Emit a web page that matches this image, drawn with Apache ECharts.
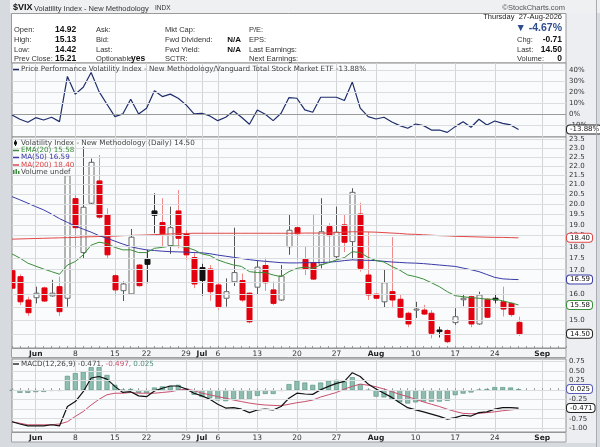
<!DOCTYPE html>
<html>
<head>
<meta charset="utf-8">
<script src="https://cdn.jsdelivr.net/npm/echarts@6/dist/echarts.min.js"></script>
<style>
html,body{margin:0;padding:0;background:#dadde2;}
#c{width:600px;height:447px;}
</style>
</head>
<body>
<div id="c"></div>
<script>
// ---------------- DATA ----------------
const categories = ['May 27','May 28','May 29','Jun 1','Jun 2','Jun 3','Jun 4','Jun 5','Jun 8','Jun 9','Jun 10','Jun 11','Jun 12','Jun 15','Jun 16','Jun 17','Jun 18','Jun 22','Jun 23','Jun 24','Jun 25','Jun 26','Jun 29','Jun 30','Jul 1','Jul 2','Jul 6','Jul 7','Jul 8','Jul 9','Jul 10','Jul 13','Jul 14','Jul 15','Jul 16','Jul 17','Jul 20','Jul 21','Jul 22','Jul 23','Jul 24','Jul 27','Jul 28','Jul 29','Jul 30','Jul 31','Aug 3','Aug 4','Aug 5','Aug 6','Aug 7','Aug 10','Aug 11','Aug 12','Aug 13','Aug 14','Aug 17','Aug 18','Aug 19','Aug 20','Aug 21','Aug 24','Aug 25','Aug 26','Aug 27','Aug 28','Aug 31','Sep 1','Sep 2','Sep 3','Sep 4'];

const tickDates  = ['Jun 1','Jun 8','Jun 15','Jun 22','Jun 29','Jul 1','Jul 6','Jul 13','Jul 20','Jul 27','Aug 3','Aug 10','Aug 17','Aug 24','Sep 1'];
const tickLabels = ['Jun','8','15','22','29','Jul','6','13','20','27','Aug','10','17','24','Sep'];

const open  = [16.96,16.71,15.77,15.86,16.25,15.93,16.30,15.84,20.28,17.74,
               20.05,21.19,19.48,16.75,16.14,16.01,17.20,17.45,19.67,19.11,
               18.05,19.67,18.58,17.52,17.09,17.03,16.37,15.84,16.50,16.55,
               16.04,16.28,17.18,16.17,15.77,18.00,18.87,17.45,17.30,17.23,
               18.92,17.56,19.00,18.23,19.52,16.78,16.00,15.70,16.10,15.80,
               15.26,15.38,15.38,15.26,14.64,14.62,14.91,15.78,15.90,14.86,
               15.80,15.84,15.70,15.64,14.92];
const high  = [17.05,16.81,15.90,16.30,16.30,16.58,16.71,21.50,20.50,23.07,
               22.40,22.60,19.80,16.81,16.51,18.81,17.25,17.86,20.55,20.30,
               19.88,20.72,18.75,17.71,17.25,17.20,16.46,16.64,18.87,16.84,
               16.07,17.39,17.52,16.51,17.20,19.48,18.92,18.00,19.48,20.30,
               19.08,19.88,19.51,20.81,20.08,18.68,16.02,17.02,18.43,16.01,
               15.32,15.70,15.58,15.38,14.76,14.67,15.45,16.01,15.94,16.10,
               15.84,16.01,16.30,15.67,15.13];
const low   = [16.20,15.57,15.16,15.64,15.70,15.90,15.16,15.51,17.93,17.49,
               20.00,19.30,17.49,15.94,15.73,16.00,16.30,16.44,18.61,18.00,
               17.68,17.93,17.42,16.24,15.94,15.74,15.38,15.51,16.33,15.70,
               14.88,15.97,16.13,15.58,15.74,17.64,17.42,16.78,16.58,17.06,
               17.28,17.42,17.76,17.42,16.92,15.77,15.82,15.47,15.45,15.08,
               14.74,15.08,15.20,14.34,14.37,14.17,14.83,15.53,14.74,14.83,
               15.08,15.64,15.14,15.13,14.42];
const close = [16.24,15.70,15.28,16.04,15.73,16.04,15.32,21.47,18.87,19.85,
               22.19,19.37,17.64,16.17,16.41,18.43,16.34,17.23,19.46,18.58,
               18.87,18.38,17.64,16.41,16.55,16.10,15.51,16.10,16.88,15.77,
               14.94,17.11,16.46,15.64,16.74,18.75,18.59,17.02,16.61,18.68,
               18.50,18.66,18.20,20.60,17.06,15.97,15.84,16.46,15.77,15.11,
               14.86,15.42,15.23,14.52,14.58,14.22,15.13,15.84,14.86,15.97,
               15.11,15.77,15.42,15.21,14.50];

const ema20 = [17.68,17.50,17.28,17.15,17.03,16.92,16.81,17.20,17.35,17.64,
               18.07,18.20,18.14,17.97,17.86,17.86,17.74,17.74,17.93,17.97,
               18.03,18.03,17.97,17.86,17.68,17.61,17.42,17.30,17.20,17.14,
               16.92,16.88,16.88,16.78,16.71,16.92,17.06,17.11,17.06,17.20,
               17.30,17.42,17.52,17.78,17.74,17.53,17.39,17.33,17.14,16.98,
               16.78,16.71,16.61,16.46,16.30,16.10,15.94,15.90,15.86,15.84,
               15.80,15.80,15.74,15.66,15.58];
const ma50  = [20.38,20.22,20.05,19.88,19.72,19.52,19.30,19.12,18.95,18.80,
               18.66,18.50,18.38,18.25,18.12,18.00,17.92,17.86,17.83,17.80,
               17.78,17.77,17.76,17.74,17.73,17.69,17.63,17.58,17.53,17.48,
               17.43,17.39,17.36,17.33,17.30,17.29,17.29,17.30,17.30,17.31,
               17.32,17.35,17.39,17.42,17.41,17.40,17.39,17.36,17.33,17.31,
               17.29,17.28,17.26,17.23,17.20,17.17,17.14,17.07,17.00,16.92,
               16.80,16.68,16.62,16.60,16.59];
const ma200 = [18.34,18.35,18.36,18.37,18.38,18.39,18.40,18.41,18.42,18.44,
               18.45,18.46,18.47,18.48,18.50,18.51,18.52,18.53,18.55,18.56,
               18.58,18.59,18.60,18.61,18.61,18.61,18.61,18.61,18.61,18.61,
               18.61,18.61,18.61,18.61,18.61,18.61,18.61,18.62,18.62,18.62,
               18.62,18.64,18.66,18.68,18.68,18.67,18.66,18.64,18.62,18.60,
               18.57,18.56,18.54,18.52,18.50,18.49,18.47,18.46,18.45,18.44,
               18.43,18.42,18.42,18.41,18.40];

const perf  = [-0.6,-4.5,-7.3,-3.1,-5.2,-2.7,-6.7,34.2,18.2,24.5,
               37.8,20.5,9.1,-2.2,0.3,13.6,0.3,5.5,21.2,16.0,
               18.2,14.5,8.5,0.3,0.9,-1.5,-5.8,-2.7,3.0,-2.7,
               -9.1,3.9,0.0,-5.8,0.9,15.1,14.5,3.9,1.8,15.4,
               15.4,15.4,12.4,29.1,5.5,-2.2,-4.3,-2.7,-7.0,-10.3,
               -12.7,-8.8,-10.3,-14.3,-14.3,-16.4,-11.2,-6.7,-11.8,-4.5,
               -9.7,-6.1,-8.2,-9.7,-13.88];

const macd   = [-0.83,-0.89,-0.94,-0.94,-0.94,-0.91,-0.94,-0.43,-0.30,-0.04,
                0.32,0.36,0.29,0.10,-0.06,-0.04,-0.15,-0.17,-0.02,0.05,
                0.11,0.11,0.03,-0.08,-0.15,-0.24,-0.37,-0.47,-0.46,-0.50,
                -0.59,-0.52,-0.50,-0.52,-0.43,-0.21,-0.08,-0.10,-0.11,0.01,
                0.10,0.18,0.23,0.46,0.36,0.16,0.03,-0.08,-0.19,-0.33,
                -0.46,-0.52,-0.57,-0.63,-0.69,-0.76,-0.72,-0.66,-0.68,-0.59,
                -0.57,-0.50,-0.46,-0.46,-0.471];
const signal = [-0.83,-0.87,-0.91,-0.91,-0.91,-0.91,-0.89,-0.83,-0.69,-0.56,
                -0.39,-0.24,-0.12,-0.08,-0.08,-0.06,-0.08,-0.08,-0.08,-0.06,
                -0.04,0.00,0.03,-0.01,-0.08,-0.12,-0.17,-0.21,-0.26,-0.30,
                -0.34,-0.37,-0.39,-0.40,-0.41,-0.37,-0.33,-0.30,-0.26,-0.18,
                -0.12,-0.06,0.03,0.10,0.16,0.13,0.09,0.03,-0.04,-0.11,
                -0.17,-0.24,-0.31,-0.37,-0.43,-0.50,-0.56,-0.61,-0.62,-0.61,
                -0.59,-0.57,-0.54,-0.52,-0.497];
const hist   = [-0.01,-0.07,-0.07,-0.05,-0.045,-0.02,-0.02,0.377,0.447,0.49,
                0.605,0.605,0.40,0.14,0.01,0.03,-0.07,-0.07,0.07,0.10,
                0.11,0.14,0.05,-0.12,-0.18,-0.21,-0.27,-0.29,-0.23,-0.25,
                -0.25,-0.15,-0.10,-0.10,-0.02,0.16,0.25,0.20,0.14,0.20,
                0.25,0.27,0.23,0.34,0.16,0.00,-0.17,-0.19,-0.25,-0.32,
                -0.35,-0.32,-0.30,-0.30,-0.30,-0.28,-0.13,-0.09,-0.06,0.01,
                0.03,0.08,0.08,0.07,0.025];

const topTicks  = [40,30,20,10,0,-10];
const topTickLabels = ['40%','30%','20%','10%','0%','-10%'];
const mainTicks = [23.5,23.0,22.5,22.0,21.5,21.0,20.5,20.0,19.5,19.0,18.5,18.0,17.5,17.0,16.5,16.0,15.5,15.0,14.5];
const mainTickLabels = ['23.5','23.0','22.5','22.0','21.5','21.0','20.5','20.0','19.5','19.0','18.5','18.0','17.5','17.0','16.5','16.0','15.5','15.0','14.5'];
const macdTicks = [0.75,0.50,0.25,0,-0.25,-0.50,-0.75,-1.00];
const macdTickLabels = ['0.75','0.50','0.25','0.00','-0.25','-0.50','-0.75','-1.00'];

// ---------------- STYLE ----------------
const SANS = '"DejaVu Sans", Verdana, sans-serif';
const ARIAL = '"Liberation Sans", Arial, sans-serif';
const RED = '#e3000f', GREEN = '#3a8f3a', BLUE = '#3a3aa8', MRED = '#e04848', NAVY = '#1d2d6b';
const last = close.length - 1;

function isTick(idx, val) { return tickDates.indexOf(val) >= 0; }
function xAx(gi, showLabels) {
  return {
    type: 'category', gridIndex: gi, data: categories, boundaryGap: false,
    axisLine: { show: false },
    axisTick: showLabels ? { show: true, interval: 0, inside: true, length: 2, lineStyle: { color: '#999' } } : { show: false },
    axisLabel: {
      show: showLabels, interval: isTick, margin: 2, fontSize: 7.5, color: '#333', fontFamily: SANS,
      formatter: function (val) {
        const k = tickDates.indexOf(val);
        if (k < 0) return '';
        const t = tickLabels[k];
        return /^[A-Za-z]/.test(t) ? '{b|' + t + '}' : t;
      },
      rich: { b: { fontWeight: 'bold', fontSize: 7.5, color: '#222', fontFamily: SANS } }
    },
    splitLine: { show: true, interval: isTick, lineStyle: { color: '#d3d5d9', width: 1 } }
  };
}
function yAx(gi, type, min, max) {
  return { type: type, gridIndex: gi, min: min, max: max, position: 'right',
    axisLine: { show: false }, axisTick: { show: false }, axisLabel: { show: false }, splitLine: { show: false } };
}
function gridML(ticks, labels, zero) {
  return {
    silent: true, symbol: 'none', animation: false,
    data: ticks.map(function (t, k) {
      return { yAxis: t,
        lineStyle: { color: (zero !== undefined && t === zero) ? '#9a9a9a' : '#dcdde0', width: 1, type: 'solid' },
        label: { show: true, position: 'end', formatter: labels[k], distance: 3, color: '#333', fontSize: 7, fontFamily: SANS } };
    })
  };
}
function tagML(items) {
  return {
    silent: true, symbol: 'none', animation: false,
    data: items.map(function (it) {
      return { yAxis: it[0],
        lineStyle: { color: 'rgba(0,0,0,0)', width: 0 },
        label: { show: true, position: 'end', formatter: it[1], distance: 1, color: '#111', fontSize: 7, fontFamily: SANS,
          backgroundColor: '#fff', borderColor: it[2], borderWidth: 1, borderRadius: 3, padding: [1, 2, 0, 3] } };
    })
  };
}
const inv = { symbol: 'none', showSymbol: false, silent: true, lineStyle: { color: 'rgba(0,0,0,0)', width: 0 }, animation: false };

const candleData = close.map(function (c, i) {
  return [i, open[i], c, low[i], high[i], i > 0 ? close[i - 1] : open[i]];
});

function renderCandle(params, api) {
  const i = api.value(0), o = api.value(1), c = api.value(2), l = api.value(3), h = api.value(4), pc = api.value(5);
  const po = api.coord([i, o]), pcc = api.coord([i, c]), pl = api.coord([i, l]), ph = api.coord([i, h]);
  const x = Math.round(po[0]) + 0.5;
  const w = 5;
  const up = c >= o;
  const higher = c >= pc;
  const top = Math.min(po[1], pcc[1]);
  const bh = Math.max(Math.abs(po[1] - pcc[1]), 1);
  let wick, body;
  if (up) {
    wick = higher ? '#555' : '#f08a8a';
    body = { fill: '#fdfdfd', stroke: higher ? '#6a6a6a' : RED, lineWidth: 1 };
  } else {
    wick = higher ? '#333' : '#f08a8a';
    const col = higher ? '#111' : RED;
    body = { fill: col, stroke: col, lineWidth: 1 };
  }
  return { type: 'group', children: [
    { type: 'line', shape: { x1: x, y1: ph[1], x2: x, y2: pl[1] }, style: { stroke: wick, lineWidth: 1 } },
    { type: 'rect', shape: { x: x - w / 2, y: top, width: w, height: bh }, style: body }
  ] };
}

// ---------------- GRAPHICS (frame, header, legends) ----------------
function T(x, y, text, size, opt) {
  opt = opt || {};
  return { type: 'text', x: x, y: y, silent: true, z: 100,
    style: { text: text, fontSize: size, fontFamily: opt.family || ARIAL, fontWeight: opt.bold ? 'bold' : 'normal',
      fill: opt.color || '#333', align: opt.align || 'left', verticalAlign: 'middle', rich: opt.rich } };
}
function R(x, y, w, h, fill, stroke, z) {
  return { type: 'rect', silent: true, z: z || 0, shape: { x: x, y: y, width: w, height: h },
    style: { fill: fill, stroke: stroke || null, lineWidth: 1 } };
}
function L(x1, y1, x2, y2, color, w) {
  return { type: 'line', silent: true, z: 100, shape: { x1: x1, y1: y1, x2: x2, y2: y2 }, style: { stroke: color, lineWidth: w || 1 } };
}
const chg = close[last] - close[last - 1];
const pct = chg / close[last - 1] * 100;
const f2 = v => v.toFixed(2);

const graphics = [
  R(0, 0, 600, 447, '#d7dadf', null, -10),
  R(10, 0, 590, 13, '#eff0f2', null, -9),
  R(566, 13, 30, 430, '#eceef1', null, -9),
  L(596.5, 0, 596.5, 447, '#a9acb2'),
  R(11.5, 13.5, 554.5, 49.5, '#ffffff', '#9a9a9a', -8),
  R(11.5, 348.5, 554.5, 9, '#f4f5f7', '#a0a0a0', -8),
  R(11.5, 432.5, 554.5, 9.5, '#f4f5f7', '#a0a0a0', -8),
  // title
  T(13, 8, '$VIX', 9, { bold: true, color: '#111' }),
  T(34, 8.5, 'Volatility Index - New Methodology', 7.5, { color: '#333' }),
  T(155, 8.5, 'INDX', 6.5, { color: '#333' }),
  T(565, 7.5, '\u00a9StockCharts.com', 7.5, { color: '#555', align: 'right' }),
  // info columns
  T(14, 29.5, 'Open:', 7.5), T(14, 39.5, 'High:', 7.5), T(14, 49.5, 'Low:', 7.5), T(14, 59, 'Prev Close:', 7.5),
  T(55, 29.5, f2(open[last]), 8.5, { bold: true, color: '#111' }),
  T(55, 39.5, f2(high[last]), 8.5, { bold: true, color: '#111' }),
  T(55, 49.5, f2(low[last]), 8.5, { bold: true, color: '#111' }),
  T(55, 59, f2(close[last - 1]), 8.5, { bold: true, color: '#111' }),
  T(96, 29.5, 'Ask:', 7.5), T(96, 39.5, 'Bid:', 7.5), T(96, 49.5, 'Last:', 7.5), T(96, 59, 'Optionable', 7.5),
  T(131, 59, 'yes', 8.5, { bold: true, color: '#111' }),
  T(165, 29.5, 'Mkt Cap:', 7.5), T(165, 39.5, 'Fwd Dividend:', 7.5), T(165, 49.5, 'Fwd Yield:', 7.5), T(165, 59, 'SCTR:', 7.5),
  T(241, 39.5, 'N/A', 8, { bold: true, color: '#111', align: 'right' }),
  T(241, 49.5, 'N/A', 8, { bold: true, color: '#111', align: 'right' }),
  T(249, 29.5, 'P/E:', 7.5), T(249, 39.5, 'EPS:', 7.5), T(249, 49.5, 'Last Earnings:', 7.5), T(249, 59, 'Next Earnings:', 7.5),
  // right info
  T(562, 17, 'Thursday  27-Aug-2026', 7.5, { align: 'right', color: '#222' }),
  T(562, 28.5, '\u25BC ' + pct.toFixed(2) + '%', 10.5, { bold: true, color: '#2c4d8e', align: 'right' }),
  T(517, 39.5, 'Chg:', 7.5), T(562, 39.5, f2(chg), 8.5, { bold: true, color: '#111', align: 'right' }),
  T(517, 49.5, 'Last:', 7.5), T(562, 49.5, f2(close[last]), 8.5, { bold: true, color: '#111', align: 'right' }),
  T(517, 59, 'Volume:', 7.5), T(562, 59, '0', 8.5, { bold: true, color: '#111', align: 'right' }),
  // top legend
  L(13, 69.5, 19, 69.5, NAVY, 1.5),
  T(21, 69.5, 'Price Performance Volatility Index - New Methodology/Vanguard Total Stock Market ETF ' + f2(perf[last]) + '%', 7.2, { family: SANS, color: '#444' }),
  // main legend
  L(15.5, 140, 15.5, 146, '#222', 1), R(14, 141.5, 3, 3, '#111', null, 100),
  T(21, 143, 'Volatility Index - New Methodology (Daily) ' + f2(close[last]), 7.2, { family: SANS, color: '#444' }),
  L(13, 150.5, 19, 150.5, GREEN, 1.5), T(21, 150.5, 'EMA(20) ' + f2(ema20[last]), 7.2, { family: SANS, color: GREEN }),
  L(13, 157.5, 19, 157.5, BLUE, 1.5), T(21, 157.5, 'MA(50) ' + f2(ma50[last]), 7.2, { family: SANS, color: BLUE }),
  L(13, 165, 19, 165, MRED, 1.5), T(21, 165, 'MA(200) ' + f2(ma200[last]), 7.2, { family: SANS, color: MRED }),
  R(13, 170, 1.5, 4, '#3a8f3a', null, 100), R(15.5, 169, 1.5, 5, '#3a8f3a', null, 100), R(18, 171, 1.5, 3, '#3a8f3a', null, 100),
  T(21, 172.5, 'Volume undef', 7.2, { family: SANS, color: '#444' }),
  // macd legend
  L(13, 364, 19, 364, '#333', 1.5),
  { type: 'text', x: 21, y: 364, silent: true, z: 100,
    style: { text: '{a|MACD(12,26,9) ' + macd[last].toFixed(3) + ',} {r|' + signal[last].toFixed(3) + ',} {g|' + hist[last].toFixed(3) + '}',
      fontSize: 7.2, fontFamily: SANS, verticalAlign: 'middle',
      rich: { a: { fill: '#444', fontSize: 7.2, fontFamily: SANS }, r: { fill: '#c8506e', fontSize: 7.2, fontFamily: SANS }, g: { fill: '#4f8d7c', fontSize: 7.2, fontFamily: SANS } } } }
];

// ---------------- CHART ----------------
const chart = echarts.init(document.getElementById('c'), null, { renderer: 'canvas', width: 600, height: 447 });
const gridBase = { left: 12, right: 34, show: true, backgroundColor: '#fafbfc', borderColor: '#8e8e8e', borderWidth: 1, containLabel: false, outerBoundsMode: 'none' };
chart.setOption({
  animation: false,
  backgroundColor: '#d7dadf',
  grid: [
    Object.assign({}, gridBase, { top: 63, height: 74 }),
    Object.assign({}, gridBase, { top: 137, height: 211 }),
    Object.assign({}, gridBase, { top: 359, height: 73 })
  ],
  xAxis: [xAx(0, false), xAx(1, true), xAx(2, true)],
  yAxis: [yAx(0, 'value', -20.6, 46.4), yAx(1, 'log', 14.0, 23.63), yAx(2, 'value', -1.10, 0.82)],
  graphic: { elements: graphics },
  series: [
    Object.assign({ type: 'line', xAxisIndex: 0, yAxisIndex: 0, data: perf, z: 1, markLine: gridML(topTicks, topTickLabels, 0) }, inv),
    { type: 'line', xAxisIndex: 0, yAxisIndex: 0, data: perf, symbol: 'none', silent: true, z: 3, lineStyle: { color: NAVY, width: 1.2 } },
    Object.assign({ type: 'line', xAxisIndex: 0, yAxisIndex: 0, data: perf, z: 6, markLine: tagML([[perf[last], f2(perf[last]) + '%', '#222']]) }, inv),

    Object.assign({ type: 'line', xAxisIndex: 1, yAxisIndex: 1, data: close, z: 1, markLine: gridML(mainTicks, mainTickLabels) }, inv),
    { type: 'custom', xAxisIndex: 1, yAxisIndex: 1, data: candleData, renderItem: renderCandle, z: 2, clip: true, silent: true,
      encode: { x: 0, y: [1, 2, 3, 4] } },
    { type: 'line', xAxisIndex: 1, yAxisIndex: 1, data: ma200, symbol: 'none', silent: true, z: 3, lineStyle: { color: MRED, width: 1 } },
    { type: 'line', xAxisIndex: 1, yAxisIndex: 1, data: ma50, symbol: 'none', silent: true, z: 3, lineStyle: { color: BLUE, width: 1 } },
    { type: 'line', xAxisIndex: 1, yAxisIndex: 1, data: ema20, symbol: 'none', silent: true, z: 3, lineStyle: { color: GREEN, width: 1 } },
    Object.assign({ type: 'line', xAxisIndex: 1, yAxisIndex: 1, data: close, z: 6, markLine: tagML([
      [ma200[last], f2(ma200[last]), MRED], [ma50[last], f2(ma50[last]), BLUE],
      [ema20[last], f2(ema20[last]), GREEN], [close[last], f2(close[last]), '#222']]) }, inv),

    Object.assign({ type: 'line', xAxisIndex: 2, yAxisIndex: 2, data: hist, z: 1, markLine: gridML(macdTicks, macdTickLabels) }, inv),
    { type: 'bar', xAxisIndex: 2, yAxisIndex: 2, data: hist, barWidth: 5, silent: true, z: 2,
      itemStyle: { color: '#8dbdaf', borderColor: '#4f8d7c', borderWidth: 0.6 } },
    { type: 'line', xAxisIndex: 2, yAxisIndex: 2, data: signal, symbol: 'none', silent: true, z: 3, lineStyle: { color: '#c8506e', width: 1 } },
    { type: 'line', xAxisIndex: 2, yAxisIndex: 2, data: macd, symbol: 'none', silent: true, z: 3, lineStyle: { color: '#111', width: 1.2 } },
    Object.assign({ type: 'line', xAxisIndex: 2, yAxisIndex: 2, data: hist, z: 6, markLine: tagML([
      [hist[last], hist[last].toFixed(3), '#5a5ab8'], [macd[last], macd[last].toFixed(3), '#222']]) }, inv)
  ]
});
</script>
</body>
</html>
